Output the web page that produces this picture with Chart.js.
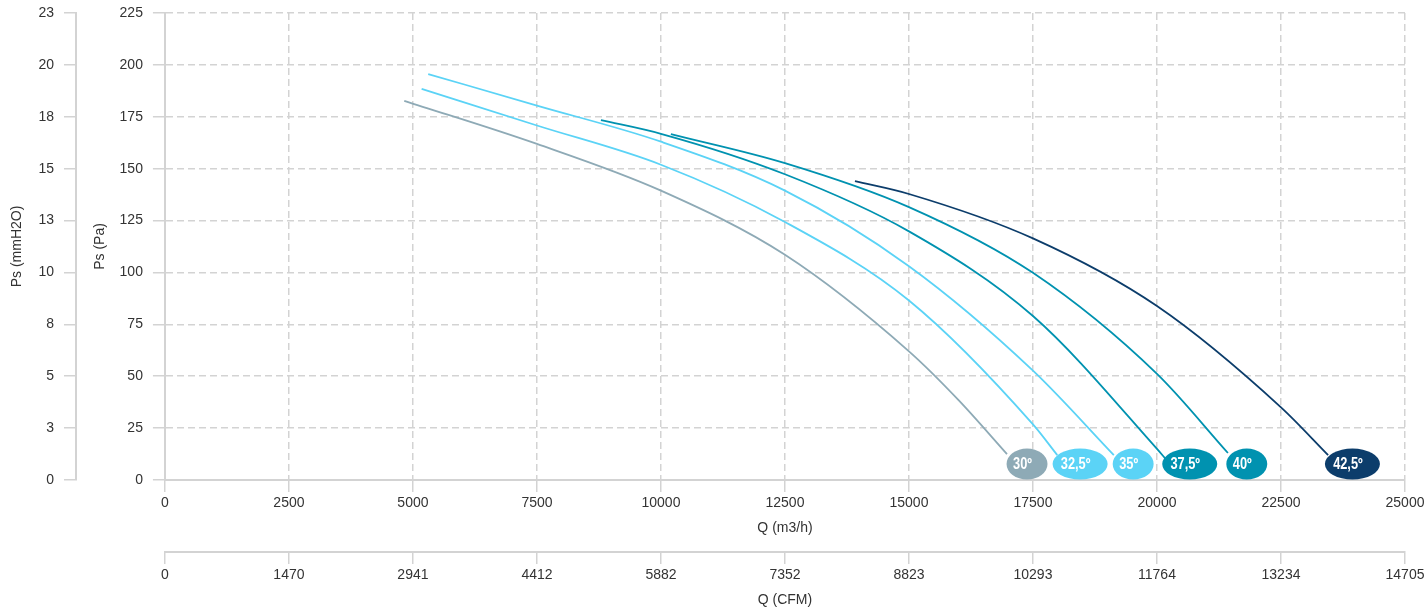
<!DOCTYPE html>
<html>
<head>
<meta charset="utf-8">
<script src="https://cdn.jsdelivr.net/npm/chart.js@4.4.1/dist/chart.umd.min.js"></script>
<style>
html,body{margin:0;padding:0;background:#ffffff;}
#wrap{width:1424px;height:613px;position:relative;}
</style>
</head>
<body>
<div id="wrap"><canvas id="c" width="1424" height="613"></canvas></div>
<script>
// ---- data ----
const seriesNames = ['30º', '32,5º', '35º', '37,5º', '40º', '42,5º'];

const q30  = [4825, 7500, 10000, 12500, 15000, 16000, 16976];
const ps30 = [182.7, 161.9, 139.4, 108.5, 62, 38.5, 12.5];

const q325  = [5175, 7500, 10000, 12500, 15000, 17500, 17990];
const ps325 = [188.4, 170.8, 151.9, 124.3, 86.5, 26.8, 12];

const q35  = [5308, 7500, 10000, 12500, 15000, 17500, 19130];
const ps35 = [195.6, 180.4, 163, 139.4, 103, 52.7, 12];

const q375  = [8790, 10000, 12500, 15000, 17500, 20000, 20180];
const ps375 = [173.4, 166.8, 147.3, 119.8, 79, 15, 10];

const q40  = [10200, 12500, 15000, 17500, 20000, 21430];
const ps40 = [166.7, 152.7, 131.5, 99.8, 51.1, 13];

const q425  = [13911, 15000, 17500, 20000, 22500, 23450];
const ps425 = [144, 137.8, 116.4, 83.8, 35, 12];

// label bubble anchor points (Q m3/h, Ps Pa)
const labelQ  = [17380, 18450, 19520, 20660, 21810, 23940];
const labelPs = [7.7, 7.7, 7.7, 7.7, 7.7, 7.7];

// axis ticks
const qTicks = [0, 2500, 5000, 7500, 10000, 12500, 15000, 17500, 20000, 22500, 25000];
const qTickLabels = ['0', '2500', '5000', '7500', '10000', '12500', '15000', '17500', '20000', '22500', '25000'];
const cfmTickLabels = ['0', '1470', '2941', '4412', '5882', '7352', '8823', '10293', '11764', '13234', '14705'];
const paTicks = [0, 25, 50, 75, 100, 125, 150, 175, 200, 225];
const paTickLabels = ['0', '25', '50', '75', '100', '125', '150', '175', '200', '225'];
const mmTickLabels = ['0', '3', '5', '8', '10', '13', '15', '18', '20', '23'];

// ---- styles ----
const seriesColors = ['#8eaab6', '#5bd3f6', '#5bd3f6', '#0092b0', '#0092b0', '#0c3d6b'];
const gridColor = '#d3d3d3';
const textColor = '#333333';
const baseFamily = "'Liberation Sans', Arial, Helvetica, sans-serif";
const tickFont = {family: baseFamily, size: 14};
const titleFont = {family: baseFamily, size: 14};

function pairs(qs, ps) { return qs.map((q, i) => ({x: q, y: ps[i]})); }
const seriesQ = [q30, q325, q35, q375, q40, q425];
const seriesP = [ps30, ps325, ps35, ps375, ps40, ps425];

const datasets = seriesNames.map((name, i) => ({
  label: name,
  data: pairs(seriesQ[i], seriesP[i]),
  borderColor: seriesColors[i],
  backgroundColor: seriesColors[i],
  borderWidth: 1.8,
  pointRadius: 0,
  pointHoverRadius: 0,
  fill: false,
  cubicInterpolationMode: 'monotone',
  showLine: true
}));

function fixedTicks(values) {
  return function (scale) { scale.ticks = values.map(v => ({value: v})); };
}
function noEdgePadding(scale) {
  scale.paddingTop = 0; scale.paddingBottom = 0;
  scale.paddingLeft = 0; scale.paddingRight = 0;
}

const bubbleLabels = {
  id: 'bubbleLabels',
  afterDatasetsDraw(chart) {
    const ctx = chart.ctx;
    const xs = chart.scales.x, ys = chart.scales.y;
    ctx.save();
    seriesNames.forEach((name, i) => {
      const px = xs.getPixelForValue(labelQ[i]);
      const py = ys.getPixelForValue(labelPs[i]);
      ctx.font = "bold 14px 'Liberation Sans', Arial, sans-serif";
      const tw = ctx.measureText(name).width * 0.82;
      const rx = (1.47 * tw + 16) / 2;
      const ry = 15.5;
      ctx.beginPath();
      ctx.ellipse(px, py, rx, ry, 0, 0, Math.PI * 2);
      ctx.fillStyle = seriesColors[i];
      ctx.fill();
      ctx.save();
      ctx.translate(px - 4.5, py + 1);
      ctx.scale(0.8, 1);
      ctx.font = "bold 16px 'Liberation Sans', Arial, sans-serif";
      ctx.fillStyle = '#ffffff';
      ctx.textAlign = 'center';
      ctx.textBaseline = 'middle';
      ctx.fillText(name, 0, 0);
      ctx.restore();
    });
    ctx.restore();
  }
};

new Chart(document.getElementById('c'), {
  type: 'scatter',
  data: {datasets},
  options: {
    responsive: false,
    animation: false,
    devicePixelRatio: 1,
    layout: {padding: {top: 13, right: 19, bottom: 4.6, left: 0}},
    plugins: {legend: {display: false}, tooltip: {enabled: false}},
    scales: {
      x: {
        type: 'linear', position: 'bottom', weight: 0, min: 0, max: 25000,
        afterBuildTicks: fixedTicks(qTicks), afterFit: noEdgePadding,
        ticks: {callback: (v, i) => qTickLabels[i], font: tickFont, color: textColor, padding: 3, maxRotation: 0, autoSkip: false},
        grid: {color: gridColor, lineWidth: 1.5, tickLength: 12, drawOnChartArea: true},
        border: {color: gridColor, width: 2, dash: [7, 4]},
        title: {display: true, text: 'Q (m3/h)', font: titleFont, color: textColor, padding: {top: 4.8, bottom: 15.6}}
      },
      x2: {
        type: 'linear', position: 'bottom', weight: 1, min: 0, max: 25000,
        afterBuildTicks: fixedTicks(qTicks), afterFit: noEdgePadding,
        ticks: {callback: (v, i) => cfmTickLabels[i], font: tickFont, color: textColor, padding: 3, maxRotation: 0, autoSkip: false},
        grid: {color: gridColor, lineWidth: 1.5, tickLength: 12, drawOnChartArea: false},
        border: {color: gridColor, width: 2},
        title: {display: true, text: 'Q (CFM)', font: titleFont, color: textColor, padding: {top: 4.8, bottom: 0}}
      },
      y: {
        type: 'linear', position: 'left', weight: 0, min: 0, max: 225,
        afterBuildTicks: fixedTicks(paTicks), afterFit: noEdgePadding,
        ticks: {callback: (v, i) => paTickLabels[i], font: tickFont, color: textColor, padding: 10, autoSkip: false},
        grid: {color: gridColor, lineWidth: 1.5, tickLength: 12, drawOnChartArea: true},
        border: {color: gridColor, width: 2, dash: [7, 4]},
        title: {display: true, text: 'Ps (Pa)', font: titleFont, color: textColor, padding: {top: 15.6, bottom: 1.2}}
      },
      y2: {
        type: 'linear', position: 'left', weight: 1, min: 0, max: 225,
        afterBuildTicks: fixedTicks(paTicks), afterFit: noEdgePadding,
        ticks: {callback: (v, i) => mmTickLabels[i], font: tickFont, color: textColor, padding: 10, autoSkip: false},
        grid: {color: gridColor, lineWidth: 1.5, tickLength: 12, drawOnChartArea: false},
        border: {color: gridColor, width: 2},
        title: {display: true, text: 'Ps (mmH2O)', font: titleFont, color: textColor, padding: {top: 8.3, bottom: 3.3}}
      }
    }
  },
  plugins: [bubbleLabels]
});
</script>
</body>
</html>
